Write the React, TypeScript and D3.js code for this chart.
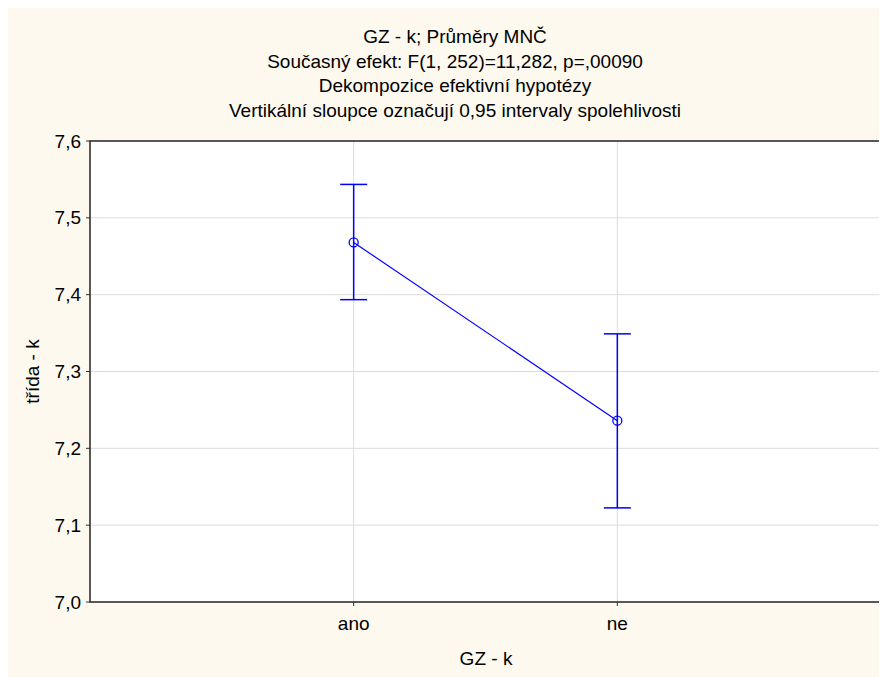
import React from "react";
import * as d3 from "d3";

// Group means of "třída - k" by "GZ - k" with 0.95 confidence intervals
const categories: string[] = ["ano", "ne"];
const means: number[] = [7.468, 7.236];
const lowerCI: number[] = [7.3935, 7.1225];
const upperCI: number[] = [7.5435, 7.349];
const yTicks: number[] = [7.0, 7.1, 7.2, 7.3, 7.4, 7.5, 7.6];

const titleLines: string[] = [
  "GZ - k; Průměry MNČ",
  "Současný efekt: F(1, 252)=11,282, p=,00090",
  "Dekompozice efektivní hypotézy",
  "Vertikální sloupce označují 0,95 intervaly spolehlivosti",
];
const xAxisTitle = "GZ - k";
const yAxisTitle = "třída - k";

const W = 879;
const H = 669;
const OFFSET = 8; // drawing coordinates are expressed in page space
const plot = { left: 90, right: 881, top: 141, bottom: 602 };
const FONT = "'Liberation Sans', Arial, sans-serif";
const FS = 19;
const BLUE = "#0000ff";

export default function App() {
  const x = d3
    .scalePoint<string>()
    .domain(categories)
    .range([plot.left, plot.right])
    .padding(1);
  const y = d3.scaleLinear().domain([7.0, 7.6]).range([plot.bottom, plot.top]);
  const fmt = (v: number) => d3.format(".1f")(v).replace(".", ",");

  const points = categories.map((c, i) => ({
    c,
    m: means[i],
    lo: lowerCI[i],
    hi: upperCI[i],
  }));
  const line = d3
    .line<{ c: string; m: number }>()
    .x((d) => x(d.c)!)
    .y((d) => y(d.m));
  const capHalf = 13.5;

  return (
    <svg width={W} height={H} style={{ display: "block" }} fontFamily={FONT}>
      <g transform={`translate(${-OFFSET},${-OFFSET})`}>
        <rect x={OFFSET} y={OFFSET} width={W} height={H} fill="#fdf9ef" />

        {titleLines.map((t, i) => (
          <text
            key={i}
            x={455}
            y={43 + i * 24.5}
            textAnchor="middle"
            fontSize={FS}
            fill="#000"
          >
            {t}
          </text>
        ))}

        <rect
          x={plot.left}
          y={plot.top}
          width={plot.right - plot.left}
          height={plot.bottom - plot.top}
          fill="#ffffff"
        />

        {/* grid */}
        {yTicks.slice(1, -1).map((t) => (
          <line
            key={t}
            x1={plot.left}
            x2={plot.right}
            y1={y(t)}
            y2={y(t)}
            stroke="#dcdcdc"
            strokeWidth={1}
          />
        ))}
        {categories.map((c) => (
          <line
            key={c}
            x1={x(c)}
            x2={x(c)}
            y1={plot.top}
            y2={plot.bottom}
            stroke="#dcdcdc"
            strokeWidth={1}
          />
        ))}

        {/* frame */}
        <rect
          x={plot.left}
          y={plot.top}
          width={plot.right - plot.left}
          height={plot.bottom - plot.top}
          fill="none"
          stroke="#303030"
          strokeWidth={1.6}
        />

        {/* y axis ticks and labels */}
        {yTicks.map((t) => (
          <g key={t}>
            <line
              x1={plot.left - 4}
              x2={plot.left}
              y1={y(t)}
              y2={y(t)}
              stroke="#303030"
              strokeWidth={1}
            />
            <text
              x={plot.left - 9}
              y={y(t)}
              dy="0.35em"
              textAnchor="end"
              fontSize={FS}
              fill="#000"
            >
              {fmt(t)}
            </text>
          </g>
        ))}

        {/* x axis ticks and labels */}
        {categories.map((c) => (
          <g key={c}>
            <line
              x1={x(c)}
              x2={x(c)}
              y1={plot.bottom}
              y2={plot.bottom + 4}
              stroke="#303030"
              strokeWidth={1}
            />
            <text
              x={x(c)}
              y={630}
              textAnchor="middle"
              fontSize={FS}
              fill="#000"
            >
              {c}
            </text>
          </g>
        ))}

        <text x={486} y={665} textAnchor="middle" fontSize={FS} fill="#000">
          {xAxisTitle}
        </text>
        <text
          transform={`translate(${39},${(plot.top + plot.bottom) / 2}) rotate(-90)`}
          textAnchor="middle"
          fontSize={FS}
          fill="#000"
        >
          {yAxisTitle}
        </text>

        {/* error bars */}
        {points.map((p) => (
          <g key={p.c} stroke={BLUE} strokeWidth={1.5} fill="none">
            <line x1={x(p.c)} x2={x(p.c)} y1={y(p.hi)} y2={y(p.lo)} />
            <line
              x1={x(p.c)! - capHalf}
              x2={x(p.c)! + capHalf}
              y1={y(p.hi)}
              y2={y(p.hi)}
            />
            <line
              x1={x(p.c)! - capHalf}
              x2={x(p.c)! + capHalf}
              y1={y(p.lo)}
              y2={y(p.lo)}
            />
          </g>
        ))}

        <path d={line(points) ?? ""} fill="none" stroke={BLUE} strokeWidth={1.2} />
        {points.map((p) => (
          <circle
            key={p.c}
            cx={x(p.c)}
            cy={y(p.m)}
            r={4.5}
            fill="none"
            stroke={BLUE}
            strokeWidth={1.3}
          />
        ))}
      </g>
    </svg>
  );
}
